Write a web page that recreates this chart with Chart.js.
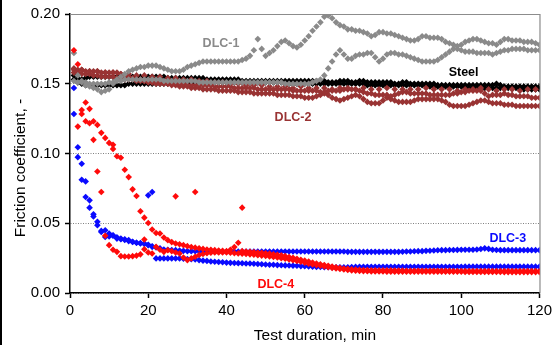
<!DOCTYPE html>
<html>
<head>
<meta charset="utf-8">
<script src="https://cdn.jsdelivr.net/npm/chart.js@4.4.1/dist/chart.umd.min.js"></script>
<style>
  html, body { margin: 0; padding: 0; background: #fff; }
  #wrap { position: relative; width: 556px; height: 345px; }
</style>
</head>
<body>
<div id="wrap"><canvas id="myChart" width="556" height="345"></canvas></div>
<script>
// sample times, min
const minutes = [
  1,2,3,4,5,6,7,8,9,10, 11,12,13,14,15,16,17,18,19,20,
  21,22,23,24,25,26,27,28,29,30, 31,32,33,34,35,36,37,38,39,40,
  41,42,43,44,45,46,47,48,49,50, 51,52,53,54,55,56,57,58,59,60,
  61,62,63,64,65,66,67,68,69,70, 71,72,73,74,75,76,77,78,79,80,
  81,82,83,84,85,86,87,88,89,90, 91,92,93,94,95,96,97,98,99,100,
  101,102,103,104,105,106,107,108,109,110, 111,112,113,114,115,116,117,118,119,120
];
const oddMinutes = [
  1,3,5,7,9,11,13,15,17,19, 21,23,25,27,29,31,33,35,37,39,
  41,43,45,47,49,51,53,55,57,59, 61,63,65,67,69,71,73,75,77,79,
  81,83,85,87,89,91,93,95,97,99, 101,103,105,107,109,111,113,115,117,119
];

// DLC-1 (two runs)
const dlc1A = [
  0.152,0.151,0.151,0.149,0.148,0.147,0.146,0.144,0.145,0.146,
  0.150,0.153,0.155,0.157,0.159,0.160,0.161,0.162,0.162,0.163,
  0.163,0.163,0.162,0.161,0.160,0.159,0.159,0.159,0.160,0.162,
  0.163,0.164,0.165,0.166,0.166,0.166,0.166,0.166,0.166,0.166,
  0.166,0.166,0.166,0.167,0.168,0.170,0.174,0.182,0.175,0.170,
  0.172,0.174,0.177,0.180,0.181,0.179,0.177,0.176,0.178,0.181,
  0.184,0.188,0.191,0.194,0.198,0.199,0.197,0.194,0.192,0.191,
  0.189,0.189,0.188,0.188,0.187,0.186,0.184,0.185,0.187,0.187,
  0.186,0.186,0.185,0.184,0.183,0.182,0.181,0.181,0.182,0.184,
  0.184,0.183,0.183,0.183,0.182,0.180,0.179,0.178,0.177,0.178,
  0.180,0.181,0.182,0.182,0.181,0.180,0.179,0.179,0.178,0.180,
  0.182,0.182,0.181,0.181,0.181,0.180,0.180,0.180,0.179,0.178
];
const dlc1B = [
  0.172,0.156,0.152,0.151,0.150,0.150,0.150,0.150,0.150,0.151,
  0.151,0.152,0.152,0.153,0.153,0.153,0.153,0.153,0.153,0.153,
  0.153,0.153,0.153,0.152,0.152,0.152,0.152,0.152,0.152,0.152,
  0.152,0.152,0.151,0.151,0.151,0.151,0.151,0.151,0.151,0.151,
  0.151,0.151,0.151,0.151,0.151,0.151,0.151,0.151,0.151,0.151,
  0.151,0.151,0.151,0.151,0.150,0.150,0.150,0.150,0.150,0.150,
  0.150,0.151,0.152,0.153,0.156,0.161,0.166,0.171,0.174,0.171,
  0.168,0.168,0.170,0.171,0.171,0.172,0.172,0.169,0.166,0.168,
  0.171,0.172,0.172,0.171,0.171,0.170,0.169,0.168,0.167,0.166,
  0.166,0.166,0.166,0.167,0.169,0.171,0.173,0.175,0.175,0.174,
  0.173,0.173,0.173,0.172,0.172,0.172,0.172,0.171,0.172,0.173,
  0.174,0.174,0.175,0.175,0.175,0.175,0.174,0.174,0.174,0.174
];

// Steel (two runs)
const steelA = [
  0.156,0.154,0.153,0.154,0.155,0.155,0.155,0.155,0.155,0.155,
  0.155,0.155,0.155,0.155,0.155,0.155,0.155,0.155,0.155,0.155,
  0.155,0.155,0.155,0.155,0.154,0.154,0.154,0.154,0.154,0.154,
  0.154,0.154,0.154,0.154,0.153,0.153,0.153,0.153,0.153,0.153,
  0.153,0.153,0.153,0.152,0.152,0.152,0.152,0.152,0.152,0.152,
  0.152,0.152,0.152,0.152,0.152,0.152,0.152,0.152,0.152,0.152,
  0.152,0.152,0.152,0.152,0.152,0.151,0.151,0.151,0.152,0.152,
  0.152,0.151,0.151,0.152,0.152,0.151,0.151,0.151,0.151,0.151,
  0.151,0.151,0.150,0.150,0.151,0.151,0.150,0.150,0.150,0.150,
  0.150,0.150,0.150,0.149,0.149,0.149,0.149,0.149,0.149,0.149,
  0.149,0.149,0.149,0.149,0.149,0.149,0.149,0.149,0.150,0.149,
  0.148,0.148,0.148,0.148,0.148,0.148,0.148,0.148,0.148,0.148
];
const steelB = [
  0.153,0.151,0.150,0.149,0.149,0.149,0.149,0.149,0.149,0.149,
  0.149,0.149,0.149,0.149,0.150,0.150,0.150,0.150,0.150,0.150,
  0.150,0.150,0.150,0.150,0.150,0.150,0.150,0.150,0.150,0.150,
  0.150,0.150,0.150,0.150,0.151,0.151,0.151,0.151,0.151,0.151,
  0.151,0.151,0.151,0.151,0.151,0.151,0.151,0.151,0.151,0.151,
  0.151,0.151,0.151,0.151,0.151,0.150,0.150,0.150,0.150,0.150,
  0.150,0.150,0.150,0.150,0.150,0.150,0.150,0.150,0.150,0.150,
  0.150,0.150,0.150,0.150,0.150,0.149,0.149,0.149,0.149,0.149,
  0.149,0.149,0.149,0.149,0.149,0.149,0.149,0.149,0.149,0.149,
  0.149,0.148,0.148,0.148,0.148,0.148,0.148,0.148,0.148,0.148,
  0.147,0.147,0.147,0.147,0.147,0.147,0.147,0.147,0.147,0.147,
  0.147,0.147,0.147,0.147,0.147,0.146,0.146,0.146,0.146,0.146
];

// DLC-2 (three runs, the first one logged every 2 min)
const dlc2A = [
  0.161,0.160,0.159,0.159,0.158,0.158,0.157,0.157,0.156,0.156,
  0.155,0.155,0.154,0.154,0.153,0.153,0.152,0.152,0.151,0.151,
  0.150,0.150,0.149,0.149,0.149,0.148,0.148,0.148,0.147,0.148,
  0.147,0.147,0.147,0.146,0.147,0.147,0.146,0.147,0.146,0.146,
  0.147,0.146,0.146,0.146,0.146,0.147,0.146,0.146,0.146,0.145,
  0.146,0.146,0.147,0.146,0.145,0.146,0.146,0.145,0.146,0.146
];
const dlc2B = [
  0.158,0.158,0.157,0.157,0.157,0.156,0.156,0.155,0.155,0.155,
  0.155,0.154,0.154,0.153,0.153,0.153,0.152,0.152,0.152,0.152,
  0.151,0.151,0.151,0.151,0.150,0.150,0.150,0.150,0.150,0.149,
  0.149,0.149,0.149,0.149,0.149,0.149,0.148,0.148,0.148,0.148,
  0.148,0.147,0.147,0.147,0.147,0.147,0.147,0.146,0.146,0.146,
  0.146,0.146,0.146,0.146,0.146,0.146,0.145,0.145,0.145,0.145,
  0.145,0.145,0.145,0.144,0.144,0.145,0.145,0.145,0.145,0.146,
  0.146,0.146,0.146,0.145,0.144,0.143,0.143,0.142,0.142,0.142,
  0.142,0.141,0.142,0.143,0.144,0.144,0.143,0.143,0.143,0.143,
  0.143,0.142,0.142,0.142,0.142,0.142,0.142,0.143,0.143,0.144,
  0.144,0.145,0.145,0.145,0.145,0.143,0.141,0.142,0.142,0.142,
  0.143,0.142,0.142,0.141,0.141,0.141,0.141,0.140,0.140,0.140
];
const dlc2C = [
  0.160,0.160,0.160,0.159,0.159,0.159,0.159,0.158,0.158,0.158,
  0.158,0.158,0.157,0.156,0.155,0.154,0.153,0.153,0.152,0.151,
  0.151,0.150,0.150,0.150,0.150,0.149,0.149,0.148,0.148,0.148,
  0.147,0.147,0.147,0.146,0.146,0.146,0.146,0.145,0.145,0.145,
  0.145,0.145,0.144,0.144,0.144,0.144,0.143,0.143,0.143,0.143,
  0.143,0.143,0.142,0.142,0.142,0.142,0.141,0.141,0.141,0.140,
  0.140,0.140,0.141,0.142,0.143,0.142,0.140,0.139,0.138,0.139,
  0.140,0.141,0.142,0.141,0.139,0.137,0.136,0.136,0.136,0.138,
  0.140,0.139,0.138,0.137,0.137,0.137,0.137,0.138,0.139,0.139,
  0.139,0.139,0.139,0.139,0.138,0.137,0.135,0.134,0.134,0.134,
  0.134,0.135,0.136,0.137,0.138,0.138,0.137,0.136,0.136,0.136,
  0.135,0.135,0.135,0.134,0.134,0.134,0.134,0.134,0.134,0.134
];

// DLC-3 (two runs + stray points)
const dlc3A = [
  0.147,0.1045,0.0926,0.080,0.0664,0.0564,0.051,0.0438,0.045,0.0426,
  0.0414,0.040,0.039,0.0385,0.038,0.0367,0.036,0.0358,0.0355,0.0343,
  0.0335,0.0326,0.032,0.0312,0.031,0.0308,0.0307,0.0305,0.0302,0.030,
  0.030,0.030,0.030,0.0298,0.0298,0.0298,0.0298,0.0298,0.0298,0.0298,
  0.0298,0.0298,0.0298,0.0298,0.0298,0.0298,0.0298,0.0298,0.0298,0.0298,
  0.0298,0.0298,0.0298,0.0298,0.0298,0.0298,0.0298,0.0298,0.0298,0.0298,
  0.0297,0.0297,0.0297,0.0297,0.0297,0.0297,0.0297,0.0297,0.0297,0.0297,
  0.0295,0.0295,0.0295,0.0295,0.0295,0.0295,0.0295,0.0295,0.0295,0.0295,
  0.0295,0.0295,0.0295,0.0295,0.0296,0.0297,0.0298,0.0299,0.030,0.030,
  0.0302,0.0303,0.0305,0.0306,0.0307,0.0307,0.0308,0.0308,0.0309,0.031,
  0.031,0.031,0.031,0.0312,0.0315,0.032,0.0316,0.031,0.0308,0.0307,
  0.0307,0.0307,0.0307,0.0307,0.0307,0.0307,0.0307,0.0307,0.0307,0.0307
];
const dlc3B = [
  0.1283,0.0974,0.0812,0.0688,0.0612,0.0548,0.0486,0.0445,0.0402,0.0405,
  0.041,0.039,0.0385,0.038,0.0372,0.0366,0.036,0.0355,0.0352,0.0345,
  0.0331,0.0248,0.0248,0.0248,0.0248,0.0248,0.0248,0.0248,0.0246,0.0244,
  0.0242,0.024,0.0236,0.0232,0.023,0.0226,0.0224,0.0222,0.022,0.0218,
  0.0216,0.0215,0.0214,0.0213,0.0212,0.0211,0.021,0.0208,0.0206,0.0204,
  0.0203,0.0202,0.020,0.0199,0.0198,0.0197,0.0196,0.0195,0.0193,0.0192,
  0.019,0.0188,0.0187,0.0186,0.0185,0.0185,0.0184,0.0184,0.0184,0.0184,
  0.0185,0.0186,0.0187,0.0188,0.0188,0.0188,0.0188,0.0188,0.0188,0.0188,
  0.0188,0.0188,0.0188,0.0188,0.0188,0.0188,0.0188,0.0188,0.0188,0.0188,
  0.0188,0.0188,0.0188,0.0188,0.0188,0.0188,0.0188,0.0188,0.0188,0.0188,
  0.0189,0.0189,0.0189,0.0189,0.0189,0.0189,0.0189,0.0189,0.0189,0.0189,
  0.0189,0.0189,0.0189,0.0189,0.0189,0.0189,0.0189,0.0189,0.0189,0.0189
];
const dlc3StrayMin = [20, 21];
const dlc3Stray = [0.070, 0.0724];

// DLC-4 (two runs + stray points)
const dlc4A = [
  0.174,0.164,0.1312,0.1366,0.132,0.1231,0.1205,0.1148,0.1112,0.1076,
  0.1062,0.098,0.0969,0.0884,0.0831,0.0743,0.0695,0.0586,0.054,0.0502,
  0.0455,0.043,0.0426,0.0398,0.0379,0.0365,0.0355,0.035,0.0343,0.0336,
  0.033,0.0325,0.032,0.0316,0.0312,0.031,0.0307,0.0304,0.0302,0.030,
  0.031,0.033,0.036,0.030,0.0298,0.0295,0.0293,0.029,0.0288,0.0285,
  0.0282,0.0278,0.0274,0.027,0.0264,0.0258,0.0252,0.0245,0.0238,0.0232,
  0.0225,0.0218,0.0212,0.0206,0.020,0.0195,0.019,0.0185,0.018,0.0176,
  0.0173,0.017,0.0168,0.0166,0.0165,0.0164,0.0163,0.0163,0.0162,0.0162,
  0.0162,0.0162,0.0161,0.0161,0.0161,0.016,0.016,0.016,0.016,0.016,
  0.016,0.016,0.0159,0.0159,0.0159,0.0159,0.0159,0.0158,0.0158,0.0158,
  0.0158,0.0158,0.0158,0.0158,0.0158,0.0158,0.0158,0.0158,0.0158,0.0158,
  0.0158,0.0158,0.0157,0.0157,0.0157,0.0157,0.0157,0.0157,0.0157,0.0157
];
const dlc4B = [
  null,0.1193,0.1283,0.1231,0.1217,0.1098,0.0871,0.0724,0.041,0.0343,
  0.031,0.0295,0.0264,0.0262,0.0262,0.0264,0.0268,0.0277,0.0314,0.029,
  0.0283,0.0331,0.031,0.0295,0.0307,0.030,0.029,0.0283,0.0255,0.0236,
  0.0248,0.026,0.0272,0.028,0.0285,0.0288,0.029,0.029,0.029,0.029,
  0.0288,0.0286,0.0284,0.0282,0.028,0.0277,0.0274,0.0271,0.0268,0.0265,
  0.0262,0.0258,0.0254,0.025,0.0245,0.024,0.0235,0.023,0.0224,0.0218,
  0.021,0.0205,0.020,0.0195,0.019,0.0185,0.018,0.0176,0.0172,0.0168,
  0.0165,0.0162,0.016,0.0158,0.0157,0.0156,0.0155,0.0155,0.0154,0.0154,
  0.0153,0.0153,0.0153,0.0153,0.0153,0.0153,0.0153,0.0153,0.0153,0.0153,
  0.0152,0.0152,0.0152,0.0152,0.0152,0.0152,0.0152,0.0152,0.0152,0.0152,
  0.0151,0.0151,0.0151,0.0151,0.0151,0.0151,0.0151,0.0151,0.0151,0.0151,
  0.015,0.015,0.015,0.015,0.015,0.015,0.015,0.015,0.015,0.015
];
const dlc4StrayMin = [11, 19, 27, 32, 44];
const dlc4Stray = [0.1033, 0.0383, 0.0693, 0.0724, 0.0612];

const GRAY = '#8a8a8a', BROWN = '#993333', BLUE = '#0a0aff', RED = '#ff0a0a', BLACK = '#000000';
const FONT = '"Liberation Sans", Arial, sans-serif';

function run(label, xs, ys, color) {
  return {
    label: label,
    data: xs.map((x, i) => ({ x: x, y: ys[i] })),
    backgroundColor: color,
    borderWidth: 0,
    pointStyle: 'rectRot',
    pointRadius: 3.3,
    showLine: false
  };
}

// text labels next to the curves, in data units
const curveLabels = [
  { text: 'DLC-1', x: 38.6, y: 0.179, color: GRAY },
  { text: 'Steel', x: 100.6, y: 0.1582, color: BLACK },
  { text: 'DLC-2', x: 57.0, y: 0.126, color: BROWN },
  { text: 'DLC-3', x: 111.9, y: 0.0393, color: BLUE },
  { text: 'DLC-4', x: 52.6, y: 0.0064, color: RED }
];

const decor = {
  id: 'decor',
  beforeDatasetsDraw(chart) {
    const { ctx, chartArea: a } = chart;
    ctx.save();
    ctx.strokeStyle = '#8c8c8c';
    ctx.lineWidth = 1.2;
    ctx.beginPath();
    ctx.moveTo(a.left, a.top + 0.5);
    ctx.lineTo(a.right + 0.5, a.top + 0.5);
    ctx.lineTo(a.right + 0.5, a.bottom);
    ctx.stroke();
    ctx.restore();
  },
  afterDraw(chart) {
    const { ctx, scales } = chart;
    ctx.save();
    ctx.font = 'bold 12.5px ' + FONT;
    ctx.textAlign = 'center';
    ctx.textBaseline = 'middle';
    curveLabels.forEach(l => {
      ctx.fillStyle = l.color;
      ctx.fillText(l.text, scales.x.getPixelForValue(l.x), scales.y.getPixelForValue(l.y));
    });
    ctx.fillStyle = '#000';
    ctx.font = '15.5px ' + FONT;
    ctx.textBaseline = 'alphabetic';
    ctx.fillText('Test duration, min', 315, 340);
    ctx.translate(25, 168);
    ctx.rotate(-Math.PI / 2);
    ctx.fillText('Friction coefficient, -', 0, 0);
    ctx.restore();
    ctx.save();
    ctx.fillStyle = '#000';
    ctx.fillRect(0, 0, 2, chart.height);
    ctx.restore();
  }
};

new Chart(document.getElementById('myChart'), {
  type: 'scatter',
  data: {
    datasets: [
      run('DLC-4 stray', dlc4StrayMin, dlc4Stray, RED),
      run('DLC-4 a', minutes, dlc4A, RED),
      run('DLC-4 b', minutes, dlc4B, RED),
      run('DLC-3 stray', dlc3StrayMin, dlc3Stray, BLUE),
      run('DLC-3 a', minutes, dlc3A, BLUE),
      run('DLC-3 b', minutes, dlc3B, BLUE),
      run('DLC-1 a', minutes, dlc1A, GRAY),
      run('DLC-1 b', minutes, dlc1B, GRAY),
      run('DLC-2 a', oddMinutes, dlc2A, BROWN),
      run('DLC-2 b', minutes, dlc2B, BROWN),
      run('DLC-2 c', minutes, dlc2C, BROWN),
      run('Steel a', minutes, steelA, BLACK),
      run('Steel b', minutes, steelB, BLACK)
    ]
  },
  options: {
    responsive: false,
    animation: false,
    devicePixelRatio: 1,
    layout: { padding: { left: 0, top: 14, right: 14, bottom: 0 } },
    plugins: { legend: { display: false }, tooltip: { enabled: false } },
    scales: {
      x: {
        type: 'linear', min: 0, max: 120,
        afterFit(s) { s.height = 52; },
        ticks: { stepSize: 20, color: '#000', font: { family: FONT, size: 15 }, padding: 4, maxRotation: 0 },
        grid: { drawOnChartArea: false, drawTicks: true, tickLength: 5, tickColor: '#000', tickWidth: 1.5 },
        border: { color: '#000', width: 1.5 }
      },
      y: {
        min: 0, max: 0.2,
        afterFit(s) { s.width = 70; },
        ticks: { stepSize: 0.05, color: '#000', font: { family: FONT, size: 15 }, padding: 5,
                 callback: v => v.toFixed(2) },
        grid: { color: '#808080', lineWidth: 1, drawTicks: true, tickLength: 5, tickColor: '#000', tickWidth: 1.5 },
        border: { color: '#000', width: 1.5, dash: [1, 1.5] }
      }
    }
  },
  plugins: [decor]
});
</script>
</body>
</html>
